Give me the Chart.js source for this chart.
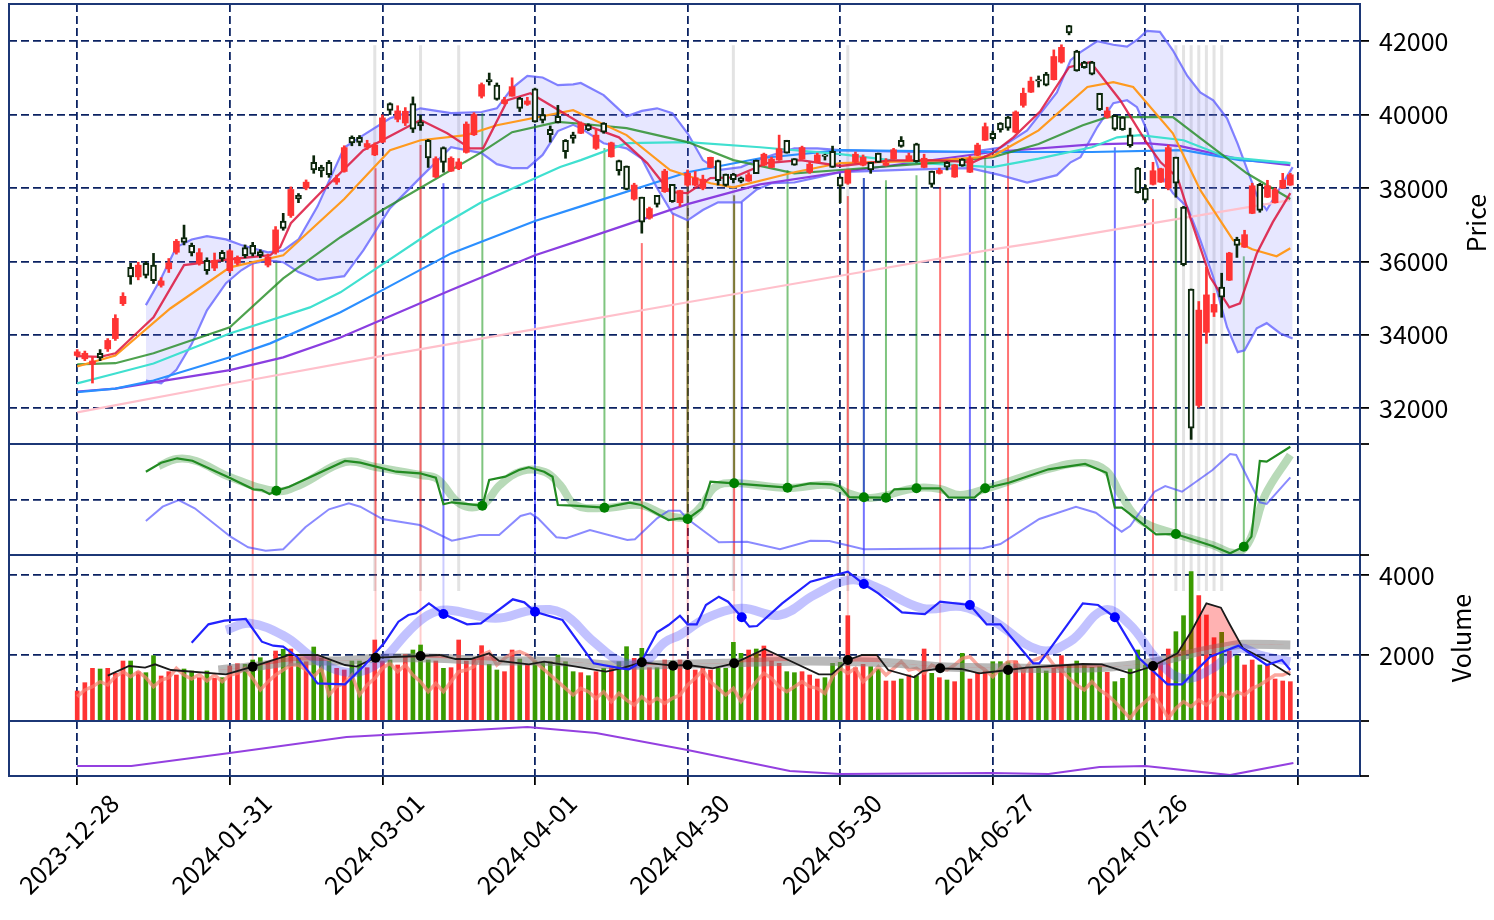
<!DOCTYPE html>
<html lang="en">
<head>
<meta charset="UTF-8">
<title>Price / Volume panels</title>
<script src="https://cdn.jsdelivr.net/npm/chart.js"></script>
<style>
    body { margin: 0; background: #ffffff; }
    #wrap { position: relative; width: 1494px; height: 920px; overflow: hidden; background: #ffffff; }
    #wrap canvas { position: absolute; }
</style>
</head>
<body>
<div id="wrap">
    <canvas id="cBottom"></canvas>
    <canvas id="cVol"></canvas>
    <canvas id="cInd"></canvas>
    <canvas id="cPrice"></canvas>
</div>
<script>
// ---- data (one row per trading day, index 0 = 2023-12-28) ----
const tickIdx = [0, 20, 40, 60, 80, 100, 120, 140, 160];
const tickLabels = ['2023-12-28', '2024-01-31', '2024-03-01', '2024-04-01', '2024-04-30', '2024-05-30', '2024-06-27', '2024-07-26', ''];
const priceTicks = [32000, 34000, 36000, 38000, 40000, 42000];
const volTicks = [2000, 4000];

// open, high, low, close
const ohlc = [
    [33440,33600,33400,33540],[33350,33560,33300,33500],[33200,33400,32690,33290],[33500,33600,33300,33377],
    [33620,33900,33550,33850],[33900,34550,33850,34450],[34850,35150,34800,35050],[35840,35950,35380,35580],
    [35580,35980,35500,35900],[35950,36000,35550,35620],[35900,36220,35400,35480],[35350,35560,35300,35470],
    [35800,36080,35700,35960],[36250,36600,36200,36550],[36650,36990,36450,36520],[36440,36500,36150,36230],
    [35950,36350,35900,36240],[36030,36100,35650,35750],[35820,36230,35750,36030],[36250,36300,36000,36070],
    [35750,36320,35700,36290],[35950,36150,35900,36110],[36380,36450,36100,36160],[36440,36520,36150,36200],
    [36270,36320,36100,36160],[35900,36200,35850,36120],[36250,36950,36200,36860],[37100,37310,36850,36900],
    [37250,38030,37200,37960],[37800,37850,37600,37700],[38000,38220,37950,38160],[38700,38880,38400,38490],
    [38560,38620,38300,38470],[38700,38750,38290,38360],[38160,38350,38100,38260],[38450,39150,38430,39100],
    [39380,39420,39150,39230],[39380,39430,39150,39240],[39110,39300,39050,39210],[38900,39230,38880,39170],
    [39250,39990,39230,39910],[40300,40320,40000,40110],[39870,40240,39800,40100],[39770,40190,39700,40090],
    [40300,40480,39510,39600],[39800,39980,39570,39690],[39300,39320,38560,38820],[38300,38850,38280,38800],
    [39100,39120,38430,38700],[38460,38850,38450,38810],[38530,38800,38500,38710],[38970,39800,38950,39740],
    [39450,40050,39430,40000],[40500,40860,40450,40815],[40950,41130,40800,40890],[40800,40860,40390,40410],
    [40300,40470,40280,40400],[40500,41000,40500,40760],[40450,40470,40080,40170],[40280,40470,40250,40370],
    [40700,40720,39790,39800],[40000,40170,39770,39840],[39600,39690,39250,39450],[39950,40250,39770,39780],
    [39300,39320,38810,38990],[39450,39520,39220,39350],[39490,39800,39480,39770],[39720,39750,39560,39580],
    [39080,39580,39050,39440],[39770,39780,39490,39520],[38850,39250,38840,39230],[38750,38760,38350,38470],
    [38600,38600,37950,37960],[37700,38130,37670,38080],[37750,37750,36770,37070],[37180,37480,37150,37440],
    [37800,37800,37480,37550],[37900,38510,37880,38460],[38100,38100,37610,37630],[37600,37940,37500,37930],
    [38080,38490,38050,38400],[38080,38450,38050,38280],[37990,38350,37950,38240],[38560,38840,38550,38835],
    [38750,38760,38080,38200],[38380,38380,38050,38070],[38380,38400,38140,38230],[38280,38300,38140,38180],
    [38190,38420,38180,38360],[38760,38760,38400,38390],[38620,38950,38600,38920],[38560,38840,38550,38790],
    [38760,39440,38750,39070],[39300,39300,38950,38950],[38800,38800,38620,38620],[38790,39140,38780,39100],
    [38430,38700,38400,38650],[38700,38950,38690,38900],[38900,38920,38760,38860],[39000,39140,38560,38560],
    [38300,38300,37600,38050],[38130,38490,38100,38490],[38700,38980,38680,38920],[38620,38900,38600,38840],
    [38700,38700,38400,38490],[38950,38950,38700,38700],[38620,38800,38600,38680],[38790,39080,38780,39040],
    [39300,39400,39110,39130],[38760,38950,38740,38880],[39200,39220,38700,38720],[38560,38920,38550,38810],
    [38460,38460,38020,38100],[38400,38540,38380,38480],[38700,38720,38490,38570],[38300,38640,38290,38630],
    [38790,38800,38590,38600],[38430,38870,38420,38800],[38890,39220,38880,39170],[39300,39770,39290,39670],
    [39490,39550,39300,39340],[39770,39780,39520,39580],[39930,39950,39570,39630],[39520,40100,39500,40070],
    [40250,40720,40200,40580],[40610,41020,40600,40910],[40950,41050,40750,40910],[41100,41150,40780,40800],
    [40950,41760,40940,41580],[41430,41900,41400,41830],[42420,42430,42170,42220],[41730,41750,41180,41190],
    [41430,41450,41260,41275],[41430,41450,41080,41100],[40580,40580,40110,40130],[39930,40200,39900,40100],
    [39980,39990,39570,39600],[39930,39940,39570,39590],[39450,39630,39110,39150],[38540,38560,37860,37870],
    [38000,38080,37610,37670],[38100,38700,38080,38470],[38160,38540,38150,38525],[38000,39170,37950,39100],
    [38840,38840,37750,38130],[37480,37500,35880,35910],[35250,35250,31156,31458],[32080,34910,32030,34675],
    [34070,35840,33770,35090],[34620,35130,34500,34830],[35300,35680,34480,35025],[35490,36250,35480,36230],
    [36600,36660,36110,36440],[36390,36850,36380,36730],[37310,38130,37300,38060],[38100,38130,37340,37390],
    [37750,38210,37740,38060],[37600,38000,37590,37950],[38000,38400,37990,38210],[38080,38400,38070,38360]
];

const volume = [
    1100,1308,1667,1650,1667,1542,1850,1850,1583,1558, 1983,1475,1583,1500,1650,1600,1433,1600,1417,1433,
    1725,1783,1767,1875,1933,1833,2100,2142,2150,1917, 1833,2200,1917,1850,1667,1625,1850,1850,1683,2375,
    1850,1875,1750,2017,2125,2250,1875,1850,1667,1683, 2375,1850,1892,2233,1767,1625,1583,2125,1900,1767,
    1850,1808,1833,2000,1833,1583,1558,1483,1583,1667, 1683,1833,2208,1917,2167,1683,1683,1875,1850,1875,
    1833,1625,1667,1625,1667,1667,2317,2042,2125,2150, 2225,1850,1792,1583,1558,1583,1500,1400,1433,1792,
    1817,2983,1683,1767,1708,1650,1350,1350,1400,1500, 1483,2150,1542,1433,1375,1333,2042,1400,1567,1600,
    1833,1833,1833,1850,1667,1683,1667,1600,1667,1983, 1767,1850,1733,1692,1708,1567,1333,1417,1650,2125,
    1750,1708,1833,2150,2583,2983,4083,3483,3000,2433, 2567,2100,1983,1750,1875,1750,1750,1400,1350,1333
];

const volSalmon = [
    958,1125,1208,1333,1250,1458,1583,1458,1583,1433, 1208,1375,1433,1667,1500,1400,1517,1350,1500,1333,
    1500,1542,1667,1417,1125,1333,1500,1625,1750,1750, 1625,1458,1667,1000,1208,1292,1500,1000,1250,1417,
    1667,1792,1583,1750,1500,1333,1083,1292,1083,1333, 1583,1625,1708,2000,2083,1750,1917,2042,2083,2000,
    1833,1667,1500,1333,1167,1000,1167,1083,917,1083, 833,1042,875,750,958,792,917,792,917,1000,
    1250,1417,1625,1333,1167,1000,1167,833,1083,1333, 1542,1417,1208,1083,1208,1333,1208,1167,1042,1458,
    1667,1542,1667,1333,1500,1708,1500,1667,1833,1625, 1667,1542,1750,1667,1625,1750,1917,1958,1750,1625,
    1458,1667,1833,1833,1583,1833,1917,2000,1750,1625, 1417,1250,1125,1333,1125,1000,833,625,417,667,
    833,1000,750,417,667,833,708,875,750,917, 1042,917,1083,1000,1167,1250,1375,1500,1500,1583
];

// price overlays, [day index, price]
const maPink = [[0,31890],[20,32670],[40,33430],[60,34160],[80,34890],[100,35610],[120,36330],[126,36520],[140,37010],[159,37670]];
const maPurple = [[0,32460],[5,32540],[10,32710],[20,33040],[27,33390],[34.5,33930],[49,35220],[60,36170],[66,36580],[80,37560],[89.5,38100],[100,38430],[120,38980],[133,39190],[140,39220],[144.6,39140],[152.4,38780],[159,38620]];
const maDodger = [[0,32440],[5,32540],[10,32760],[20,33390],[25.3,33770],[34.5,34620],[40,35220],[49,36220],[60,37100],[66,37500],[80,38430],[89.5,38810],[100,39030],[120,38980],[133,38980],[145,39030],[152.4,38760],[159,38680]];
const maTeal = [[0,32680],[5,32950],[10,33220],[20,34040],[30.5,34750],[34.5,35160],[46.7,36850],[52.8,37590],[63.3,38570],[66,38760],[72,39220],[80,39250],[89.5,39110],[100,38920],[109,38700],[120,38570],[126,38800],[133,39110],[136.3,39380],[139.3,39440],[145,39300],[150.7,38840],[159,38680]];
const maGreen = [[0,33200],[5,33230],[10,33500],[20,34210],[27,35540],[34.5,36660],[40,37400],[52.8,38950],[57,39520],[63,39800],[66,39750],[72,39630],[80,39250],[86,38760],[94,38400],[100,38490],[113,38700],[120,38840],[126,39200],[131.8,39710],[135,39930],[143.6,39930],[147.2,39360],[153.3,38400],[159,37700]];
const maOrange = [[0,33140],[5,33440],[12.2,34720],[20,35840],[27,36170],[35,37700],[41,39030],[45,39300],[51,39440],[55,39710],[65,40120],[72,39440],[77.7,38490],[83,38130],[86,38020],[94,38430],[100,38680],[113,38750],[120,38870],[126,39570],[132.4,40750],[135.8,40880],[138.4,40750],[143.6,39490],[147.2,37940],[151.5,36580],[154,36330],[157.2,36140],[159,36360]];
const maRed = [[0,33420],[3,33400],[5,33500],[10,34480],[14,35900],[20,36060],[25.3,36170],[26.6,36390],[28,37040],[32.2,37940],[37.5,39030],[45,39850],[48.5,39490],[51.5,39080],[53.2,39080],[56.4,40390],[59.4,40580],[61.6,40310],[65.9,39770],[71,39380],[74.7,38680],[77.7,37890],[80,37860],[83,38270],[86,38290],[90.4,38680],[94.8,38760],[100,38600],[106.6,38750],[113,38750],[117.4,38700],[120,38950],[122.7,39380],[126.2,40080],[130,41290],[132.8,41430],[136.7,40390],[140.2,39220],[142,38700],[144.2,38290],[146,37120],[148.5,35570],[151,34750],[152.4,34860],[154.6,36220],[156.7,37070],[159,37860]];
const bandUp = [[9,34810],[11,35540],[13,36390],[15,36600],[17,36690],[19.5,36600],[21.5,36450],[23,36360],[25,36250],[27,36300],[29,36600],[31.5,37500],[35,39100],[37.5,39440],[41,39900],[45,40170],[49,40040],[53,40070],[55,40170],[57,40720],[59,41050],[61,41010],[63,40800],[65,40820],[66,40860],[69,40530],[72,39950],[74,40100],[76,40170],[78,40040],[80,39490],[82,38760],[84,38490],[87,38570],[89,38750],[91,38890],[94,39080],[97,39080],[100,39030],[109,38980],[117,38980],[121,39100],[124.5,39570],[128.4,40600],[130.2,41480],[131.5,41700],[133.7,42000],[135.8,41900],[137.6,41850],[138.9,42030],[140.2,42280],[141.9,42250],[143.6,41750],[145.5,41050],[147.2,40600],[148.9,40390],[150.7,39900],[152.1,39200],[153,38700],[154.6,37800],[155.9,37400],[157.7,38020],[159.3,38570]];
const bandLo = [[9,32760],[11,32680],[13,33050],[15,33750],[17,34670],[19.5,35410],[21.5,35760],[23,35950],[25,36030],[27,35980],[29,35710],[31.5,35500],[35,35600],[37.5,36300],[41,37450],[45,38290],[49,39110],[53,38950],[55,38650],[57,38540],[59,38540],[61,38900],[63,39550],[65,39720],[66,39630],[69,39220],[72,39080],[74,38800],[76,38000],[78,37310],[80,37120],[82,37400],[84,37610],[87,37610],[89,37950],[91,38130],[94,38150],[97,38290],[100,38430],[109,38500],[117,38540],[121,38350],[124.5,38150],[128.4,38350],[130.2,38700],[131.5,38840],[133.7,39660],[135.8,40310],[137.6,40390],[138.9,40200],[140.2,39570],[141.9,38400],[143.6,37860],[145.5,37480],[147.2,36580],[148.9,35570],[150.7,34210],[152.1,33530],[153,33580],[154.6,34180],[155.9,34320],[157.7,34040],[159.3,33900]];

// middle indicator panel (0 = panel bottom)
const indGreen = [[9,83.3],[11,92.3],[13.1,96.7],[15.1,94.3],[20.1,76.7],[23.1,65.7],[24.2,65],[25.2,61],[26.1,64.3],[27.8,68.3],[35.1,94],[37.1,92.3],[41.8,83.3],[44.9,81.7],[47,77.3],[48,50.7],[49.1,52.7],[53.1,49.3],[54,75],[56.1,78.3],[57.9,85],[59.2,87.7],[61.2,83.3],[62.3,78.3],[63,50],[65.1,49.3],[69.1,47.3],[72.4,52.3],[73.9,50],[77.5,35],[79,36.7],[80,36],[81.9,46.7],[83,73.3],[86.1,71.7],[93.1,67.3],[96.1,71.7],[98.9,70.7],[100,68.3],[101.2,57.7],[103.1,57.7],[106,57.3],[107.1,65.7],[110,66.7],[113.1,66.7],[114.2,57.7],[117.6,57.3],[119,66.7],[122.1,72.3],[127.3,85.7],[132.1,91],[134.9,82.3],[136,47.3],[136.9,47.3],[141.4,20.7],[144,21],[148.8,9],[151.1,1.7],[152.9,8.3],[153.9,18.3],[155,94],[155.9,93.3],[159,108.3]];
const indGreenSoft = [[10.7,89],[13,96],[15.6,94],[20,78],[26.1,64],[29.2,70],[35.1,93],[39.1,88],[45,80],[47.2,76],[50.2,51],[53.1,50],[55.4,70],[58.3,84],[61.3,83],[63.3,70],[65.3,50],[69.1,47],[73.8,50],[77.1,40],[80,38],[81.7,48],[83.6,68],[86.1,72],[93.1,67],[98.7,70],[101,62],[104,57],[110,67],[113.1,66],[115.7,60],[119,66],[127.3,86],[132.1,92],[134.9,84],[136.8,60],[139.3,35],[144,21],[148.8,10],[151.9,2],[153.7,15],[155.7,60],[159,100]];
const indBlue = [[9,34],[11.2,48.3],[13.3,55],[15.4,46.7],[20.1,18.3],[22.4,7.7],[24.7,4.3],[27,5.7],[29.9,27.7],[33,45.7],[35.6,51.7],[37.1,48.3],[40,36],[44.9,30],[49.1,14.3],[52.7,20],[55.3,20],[58.1,39],[59.4,41.7],[60.4,36.7],[62.8,17.7],[64.1,16.7],[67.2,25],[72.1,15],[73.1,15.7],[76,36.7],[77.5,44.3],[79,44.3],[80,36],[84.1,12.7],[87.8,13.3],[92.1,5.7],[96.1,14.3],[98.6,14],[103.1,5.7],[118.7,6.7],[121,11],[126.1,36],[130.9,48.3],[133.5,42.3],[136.9,23.3],[138,29],[141.2,63.3],[142.6,69],[144.8,63.3],[148.8,85],[151.1,101],[151.9,100],[155,52.7],[155.9,51],[159,77.7]];

// volume panel overlays
const volBlue = [[15,2308],[17.2,2767],[19.3,2858],[22.1,2900],[24.2,2333],[25.7,2233],[27,2208],[28.8,1958],[31.5,1292],[35.1,1267],[37.7,1750],[40.2,2292],[42.1,2833],[43.4,3000],[44.4,3042],[46.1,3292],[48,3025],[51.1,2767],[52.9,2792],[57.1,3392],[58.6,3317],[60,3083],[63.6,2875],[67.7,1792],[71.3,1667],[72.3,1642],[73.9,1817],[76,2567],[77.5,2750],[79,2983],[80,2767],[81.2,2767],[82.4,3250],[84.1,3458],[85.3,3333],[87.1,2942],[88.1,2708],[89.1,2725],[92.4,3292],[96.1,3833],[101,4083],[103.1,3775],[105,3542],[108.1,3067],[111.1,3025],[113.1,3333],[117,3250],[119.2,2767],[121,2767],[125.3,1792],[126.1,1792],[127.8,2233],[131.8,3292],[133.8,3250],[136,2942],[139.2,1917],[142.9,1267],[144.8,1267],[148.5,1958],[152.2,2233],[155.9,1750],[157.9,1875],[159,1625]];
const volBlueSoft = [[19.5,2625],[22.6,2792],[27.3,2458],[30.4,2000],[34,1625],[37.1,1583],[40.2,1917],[43.4,2583],[46,3000],[48.5,3125],[54.8,2917],[59.9,3125],[63.6,3042],[67.7,2333],[71.3,1833],[74.4,1833],[77,2317],[79,2500],[82.4,2917],[87,3167],[92.1,3000],[96.6,3500],[101.2,3875],[104.6,3708],[110.8,3167],[115.9,3208],[119.9,2875],[126.1,2125],[130.1,2333],[134.6,3125],[138,2750],[141.4,1917],[144.8,1417],[148.8,1667],[152.2,2167],[155,2000],[159,1833]];
const volBlack = [[4,1483],[6.8,1725],[8.9,1683],[10.2,1767],[12.3,1625],[19.5,1517],[23,1708],[27.8,2000],[31.5,2000],[35.1,1750],[36.6,1708],[39.1,1933],[45,1975],[47.5,2000],[49.6,1900],[51.6,1900],[54,2042],[55.3,1850],[59.2,1767],[61.2,1833],[64.6,1733],[69.3,1583],[71.3,1667],[74,1817],[78.1,1733],[80,1750],[83.3,1667],[86.1,1792],[90.1,2150],[93.2,1875],[97.2,1517],[98.9,1517],[101,1875],[102.9,2000],[104.8,2000],[106.3,1625],[109.7,1442],[110.8,1600],[113.1,1667],[115.9,1650],[118.2,1542],[122,1625],[124.4,1683],[131.8,1775],[134.3,1767],[138,1542],[141,1725],[144.2,2042],[146,2583],[148,3292],[149.9,3183],[151.1,2750],[152.8,2167],[156.2,1833],[159,1500]];
const volGray = [[18.5,1625],[23.7,1725],[28.8,1850],[34,1850],[39.2,1917],[44.4,1933],[49.5,1900],[54.8,1850],[59.9,1850],[65.1,1817],[70.3,1750],[75.5,1750],[79,1767],[84.7,1792],[90.4,1833],[96.1,1850],[101.7,1833],[107.4,1792],[113.1,1708],[118.7,1683],[124.4,1667],[130.1,1667],[135.8,1708],[141.4,1833],[147.1,2083],[150.5,2208],[152.8,2267],[159,2250]];

// bottom panel
const botLine = [[0,10],[7.1,10],[20,23],[35.3,39],[40.1,41],[59,49],[68,43],[80,26],[93.4,5],[100,2],[119.7,3],[127.3,2],[134,9],[140,10],[151.1,1],[159.4,13]];

// signals: day index, price where the line starts, value where it ends
const redSigX = [23, 39.1, 45, 74, 78.1, 80, 86.1, 101, 113.1, 122, 141];
const redSigPrice = [36000, 38540, 39170, 36500, 37310, 38050, 37800, 37780, 38020, 39170, 37700];
const redSigVol = [1708, 1933, 1975, 1817, 1733, 1750, 1792, 1875, 1667, 1625, 1725];
const greenSigX = [26.1, 53.1, 69.1, 80, 86.1, 93.1, 103.1, 106, 110, 119, 144, 152.9];
const greenSigPrice = [36030, 40040, 39090, 38050, 37800, 38490, 38270, 38210, 38350, 38890, 37450, 36140];
const greenSigInd = [64.3, 49.3, 47.3, 36, 71.7, 67.3, 57.7, 57.3, 66.7, 66.7, 21, 8.3];
const blueSigX = [48, 60, 87.1, 103.1, 117, 136];
const blueSigPrice = [38130, 39600, 37610, 38270, 38080, 39110];
const blueSigVol = [3025, 3083, 2942, 3775, 3250, 2942];
const graySigX = [39, 45, 50, 86, 101, 144, 145, 146, 147, 148, 149, 150];
const graySigPrice = 41890;
const graySigVol = 3600;

// ---- look ----
const FONT = "'Noto Sans CJK JP', 'Noto Sans', sans-serif";
const NAVY = '#0b2262';
const FRAME = '#1c3776';
const X_MIN = -8.94, X_MAX = 168.13;
Chart.defaults.font.family = FONT;

const pts = arr => arr.map(([x, y]) => ({x, y}));
const isUp = ohlc.map(d => d[3] >= d[0]);

function line(data, color, width, order, extra) {
    return Object.assign({
        type: 'line', data: pts(data), borderColor: color, borderWidth: width,
        pointRadius: 0, tension: 0, fill: false, order: order
    }, extra || {});
}
function dots(xs, ys, color, order) {
    return {
        type: 'scatter', data: xs.map((x, i) => ({x, y: ys[i]})), order: order,
        pointRadius: 5, pointBackgroundColor: color, pointBorderWidth: 0
    };
}

function xScale(labels) {
    return {
        type: 'linear', min: X_MIN, max: X_MAX, offset: false,
        afterBuildTicks: s => { s.ticks = tickIdx.map(v => ({value: v})); },
        grid: { color: NAVY, lineWidth: 1.8, offset: false, drawTicks: labels, tickLength: 9, tickColor: '#000', tickWidth: 1.8 },
        border: { display: false, dash: [8, 4] },
        ticks: labels ? {
            autoSkip: false, maxRotation: 45, minRotation: 45, labelOffset: 37, padding: 3,
            color: '#000', font: { family: FONT, size: 25 },
            callback: v => { const k = tickIdx.indexOf(v); return k < 0 ? '' : tickLabels[k]; }
        } : { display: false },
        afterFit: s => { s.height = labels ? 144 : 0; }
    };
}
function yScale(min, max, ticks, showLabels) {
    return {
        type: 'linear', position: 'right', min: min, max: max,
        afterBuildTicks: s => { s.ticks = ticks.map(v => ({value: v})); },
        grid: { display: ticks.length > 0, color: NAVY, lineWidth: 1.8, drawTicks: showLabels, tickLength: 9, tickColor: '#000', tickWidth: 1.8 },
        border: { display: false, dash: [8, 4] },
        ticks: showLabels ? { color: '#000', font: { family: FONT, size: 25 }, padding: 10, callback: v => String(v) } : { display: false },
        afterFit: s => { s.width = 134; }
    };
}

// vertical signal lines, drawn under the datasets of each panel
const signalPlugin = {
    id: 'signals',
    beforeDatasetsDraw(chart, args, opts) {
        const {ctx, chartArea: a, scales: {x, y}} = chart;
        ctx.save();
        ctx.beginPath();
        ctx.rect(a.left, a.top, a.right - a.left, a.bottom - a.top);
        ctx.clip();
        (opts.segs || []).forEach(s => {
            const px = x.getPixelForValue(s.x);
            const y1 = s.from === 'top' ? a.top : y.getPixelForValue(s.from);
            const y2 = s.to === 'bottom' ? a.bottom : y.getPixelForValue(s.to);
            ctx.strokeStyle = s.c;
            ctx.lineWidth = s.w;
            ctx.beginPath();
            ctx.moveTo(px, y1);
            ctx.lineTo(px, y2);
            ctx.stroke();
        });
        ctx.restore();
    }
};

// panel frame, side ticks on the panel edges, axis title
const framePlugin = {
    id: 'frame',
    afterDraw(chart, args, opts) {
        const {ctx, chartArea: a} = chart;
        ctx.save();
        ctx.strokeStyle = FRAME;
        ctx.lineWidth = 2;
        ctx.strokeRect(a.left, a.top, a.right - a.left, a.bottom - a.top);
        if (opts.edgeTicks) {
            ctx.strokeStyle = '#000';
            ctx.lineWidth = 1.8;
            [a.top, a.bottom].forEach(py => {
                ctx.beginPath(); ctx.moveTo(a.right, py); ctx.lineTo(a.right + 9, py); ctx.stroke();
            });
        }
        if (opts.title) {
            ctx.fillStyle = '#000';
            ctx.font = '25px ' + FONT;
            ctx.textAlign = 'center';
            ctx.textBaseline = 'middle';
            ctx.translate(opts.title.x, opts.title.y);
            ctx.rotate(-Math.PI / 2);
            ctx.fillText(opts.title.text, 0, 0);
        }
        ctx.restore();
    }
};

function makeChart(id, box, datasets, scales, plugOpts) {
    const c = document.getElementById(id);
    c.width = box.w; c.height = box.h;
    c.style.left = box.left + 'px';
    c.style.top = box.top + 'px';
    return new Chart(c, {
        type: 'line',
        data: { datasets: datasets },
        options: {
            responsive: false, animation: false, events: [],
            layout: { padding: { left: box.padLeft, right: 0, top: 30, bottom: box.padBottom } },
            plugins: {
                legend: { display: false }, tooltip: { enabled: false },
                signals: { segs: plugOpts.segs }, frame: plugOpts.frame
            },
            scales: scales
        },
        plugins: [signalPlugin, framePlugin]
    });
}

// ---- signal segments for each panel ----
const RED = 'rgba(255,0,0,0.55)', GREEN = 'rgba(0,140,0,0.5)', BLUE = 'rgba(0,0,255,0.55)', GRAY = 'rgba(128,128,128,0.22)';
const RED_PALE = 'rgba(255,0,0,0.2)', BLUE_PALE = 'rgba(0,0,255,0.2)';
const priceSegs = [], indSegs = [], volSegs = [];
graySigX.forEach(x => {
    priceSegs.push({x, from: graySigPrice, to: 'bottom', c: GRAY, w: 3});
    indSegs.push({x, from: 'top', to: 'bottom', c: GRAY, w: 3});
    volSegs.push({x, from: 'top', to: graySigVol, c: GRAY, w: 3});
});
redSigX.forEach((x, i) => {
    priceSegs.push({x, from: redSigPrice[i], to: 'bottom', c: RED, w: 2});
    indSegs.push({x, from: 'top', to: 'bottom', c: RED, w: 2});
    volSegs.push({x, from: 'top', to: redSigVol[i], c: RED_PALE, w: 2});
});
greenSigX.forEach((x, i) => {
    priceSegs.push({x, from: greenSigPrice[i], to: 'bottom', c: GREEN, w: 2});
    indSegs.push({x, from: 'top', to: greenSigInd[i], c: GREEN, w: 2});
});
blueSigX.forEach((x, i) => {
    priceSegs.push({x, from: blueSigPrice[i], to: 'bottom', c: BLUE, w: 2});
    indSegs.push({x, from: 'top', to: 'bottom', c: BLUE, w: 2});
    volSegs.push({x, from: 'top', to: blueSigVol[i], c: BLUE_PALE, w: 2});
});

// ---- price panel ----
makeChart('cPrice', {left: 0, top: -26, w: 1494, h: 500, padLeft: 9, padBottom: 30}, [
    {
        type: 'bar', label: 'body', grouped: false, order: 0, barThickness: 6, borderSkipped: false,
        data: ohlc.map((d, i) => ({x: i, y: [d[0], d[3]]})),
        backgroundColor: isUp.map(u => u ? '#ff3333' : '#ffffff'),
        borderColor: isUp.map(u => u ? '#ff3333' : '#0b260b'),
        borderWidth: isUp.map(u => u ? 0 : 2)
    },
    {
        type: 'bar', label: 'wick', grouped: false, order: 1, barThickness: 2,
        data: ohlc.map((d, i) => ({x: i, y: [d[2], d[1]]})),
        backgroundColor: isUp.map(u => u ? '#ff3333' : '#0b260b')
    },
    line(maRed, 'rgba(220,20,60,0.85)', 2.3, 2),
    line(maOrange, '#ff9a1f', 2.2, 3),
    line(maGreen, 'rgba(34,139,34,0.8)', 2.2, 4),
    line(maTeal, '#40e0d0', 2.2, 5),
    line(maDodger, '#2b8fff', 2.2, 6),
    line(maPurple, '#8a3ee0', 2.2, 7),
    line(maPink, '#ffc0cb', 2.2, 8),
    line(bandUp, 'rgba(90,90,255,0.75)', 2.2, 9, {fill: '+1', backgroundColor: 'rgba(110,110,255,0.17)'}),
    line(bandLo, 'rgba(90,90,255,0.75)', 2.2, 10)
], { x: xScale(false), y: yScale(31030, 43010, priceTicks, true) },
{ segs: priceSegs, frame: { title: {text: 'Price', x: 1476, y: 249} } });

// ---- indicator panel ----
makeChart('cInd', {left: 0, top: 414, w: 1494, h: 171, padLeft: 9, padBottom: 30}, [
    dots(greenSigX, greenSigInd, '#008000', 0),
    line(indGreen, '#228b22', 2.2, 1),
    line(indBlue, 'rgba(60,60,255,0.6)', 2, 2),
    line(indGreenSoft, 'rgba(34,139,34,0.32)', 8, 3, {tension: 0.4})
], { x: xScale(false), y: yScale(0, 111, [55], false) },
{ segs: indSegs, frame: { edgeTicks: true } });

// ---- volume panel ----
makeChart('cVol', {left: 0, top: 525, w: 1494, h: 226, padLeft: 9, padBottom: 30}, [
    dots(redSigX, redSigVol, '#000000', 0),
    dots(blueSigX, blueSigVol, '#0000ff', 0),
    line(volBlue, '#2222ff', 2.2, 1),
    line(volBlack, '#1a1a1a', 1.8, 2, {fill: {target: 5, above: 'rgba(255,0,0,0.3)', below: 'rgba(0,0,0,0)'}}),
    line(volBlueSoft, 'rgba(70,70,255,0.33)', 9, 3, {tension: 0.4}),
    line(volGray, 'rgba(128,128,128,0.55)', 9, 4, {tension: 0.4}),
    line(volSalmon.map((v, i) => [i, v]), 'rgba(250,128,114,0.7)', 3.5, 5),
    {
        type: 'bar', label: 'volume', grouped: false, order: 6, barThickness: 4,
        data: volume.map((v, i) => ({x: i, y: v})),
        backgroundColor: isUp.map(u => u ? '#ff3333' : '#3a9b00')
    }
], { x: xScale(false), y: yScale(350, 4500, volTicks, true) },
{ segs: volSegs, frame: { title: {text: 'Volume', x: 1461, y: 113} } });

// ---- bottom panel with the date axis ----
makeChart('cBottom', {left: -60, top: 691, w: 1554, h: 229, padLeft: 69, padBottom: 0}, [
    line(botLine, '#9440e0', 2.2, 0)
], { x: xScale(true), y: yScale(0, 55, [], false) },
{ segs: [], frame: { edgeTicks: true } });
</script>
</body>
</html>
